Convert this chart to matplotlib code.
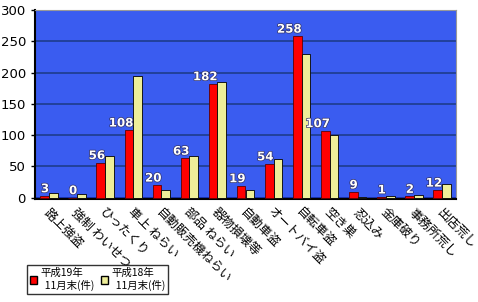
import matplotlib
matplotlib.use("Agg")
import matplotlib.pyplot as plt
import matplotlib.patheffects as pe
from matplotlib.patches import Patch
import numpy as np

plt.rcParams['font.family'] = ['Noto Sans CJK JP', 'DejaVu Sans']

categories = ["路上強盗", "強制 わいせつ", "ひったくり", "車上 ねらい", "自動販売機ねらい",
              "部品 ねらい", "器物損壊等", "自動車盗", "オートバイ盗", "自転車盗",
              "空き巣", "忍込み", "金庫破り", "事務所荒し", "出店荒し"]
h19 = [3, 0, 56, 108, 20, 63, 182, 19, 54, 258, 107, 9, 1, 2, 12]
h18 = [8, 6, 67, 194, 13, 67, 185, 12, 62, 230, 101, 1, 3, 5, 22]
yticks = [0, 50, 100, 150, 200, 250, 300]

fig = plt.figure(figsize=(4.78, 3.02), dpi=100)
ax = fig.add_axes([35 / 478, 103 / 302, 421 / 478, 189 / 302])
ax.set_facecolor('#3a5cf0')

x = np.arange(len(categories))
w = 0.31
ax.bar(x - w / 2, h19, width=w, color='#ff0000', edgecolor='#600000', linewidth=0.6, zorder=3)
ax.bar(x + w / 2, h18, width=w, color='#eeee99', edgecolor='black', linewidth=0.6, zorder=3)

for xi, v in zip(x, h19):
    ax.text(xi, v + 1, str(v), ha='right', va='bottom', color='white', fontsize=8.5,
            fontweight='bold', family='DejaVu Sans', zorder=5,
            path_effects=[pe.withStroke(linewidth=1, foreground='#333366')])

ax.set_xlim(-0.5, len(categories) - 0.5)
ax.set_ylim(-2, 300)
ax.set_yticks(yticks)
ax.set_yticklabels([str(t) for t in yticks], fontsize=9.5, family='DejaVu Sans')
ax.yaxis.grid(True, color='#1e3c8c', linewidth=1.2, zorder=1)
ax.axhspan(-2, 0, color='#0000ff', zorder=2)
ax.set_xticks(x)
ax.set_xticklabels([])
ax.tick_params(axis='x', length=0)
ax.tick_params(axis='y', length=3, width=1)
for s in ['top', 'right']:
    ax.spines[s].set_color('#999999')
ax.spines['left'].set_linewidth(1.5)
ax.spines['bottom'].set_linewidth(1.5)

for xi, lab in zip(x, categories):
    ax.text(xi - 0.12, -20, lab, rotation=-45, rotation_mode='anchor', ha='left', va='center',
            fontsize=9, clip_on=False)

handles = [Patch(facecolor='#ff0000', edgecolor='black'), Patch(facecolor='#eeee99', edgecolor='black')]
leg = fig.legend(handles, ["平成19年\n  11月末(件)", "平成18年\n  11月末(件)"], ncol=2,
                 loc='lower left', bbox_to_anchor=(22 / 478, 3 / 302), fontsize=7.5,
                 frameon=True, fancybox=False, edgecolor='black', handlelength=0.7,
                 handleheight=0.7, handletextpad=0.3, columnspacing=0.6, borderpad=0.25,
                 labelspacing=0.2)
leg.get_frame().set_linewidth(1)

fig.savefig("out.png", dpi=100, facecolor='white')
